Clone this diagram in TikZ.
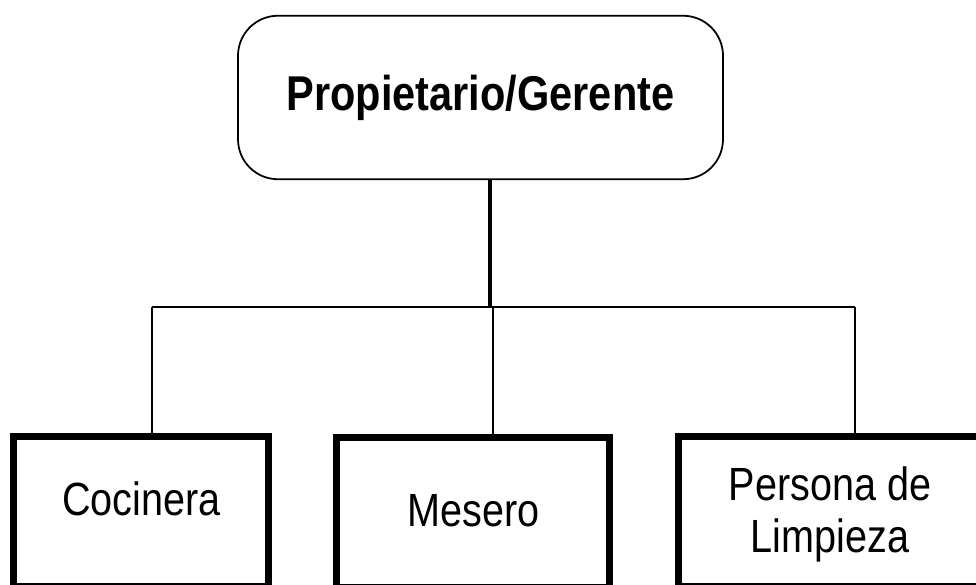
\documentclass[tikz,border=0pt]{standalone}
\usepackage{fontspec}
\setmainfont{Liberation Sans}[FakeStretch=0.85]
\usetikzlibrary{calc}
\tikzset{
  jefe/.style={draw,rounded corners=0.8cm,line width=1pt,minimum width=9.7cm,minimum height=3.27cm,font=\fontsize{27.8}{30}\selectfont\bfseries},
  puesto/.style={draw,line width=4pt,minimum width=#1,minimum height=3cm},
  rotulo/.style={align=center,inner sep=0pt,font=\fontsize{26.5}{29.6}\selectfont},
  rama/.style={line width=1pt},
  tronco/.style={line width=2pt},
}
\begin{document}
\begin{tikzpicture}
  \clip (0,0) rectangle (19.52,11.7);
  \node[jefe] (gerente) at (9.61,9.75) {Propietario/Gerente};
  \node[puesto=5.1cm] (cocinera) at (2.82,1.47) {};
  \node[puesto=5.46cm] (mesero) at (9.46,1.45) {};
  \node[puesto=6.06cm] (limpieza) at (16.6,1.47) {};
  \node[rotulo] (tcocinera) at (2.83,1.73) {Cocinera};
  \node[rotulo] (tmesero) at (9.47,1.48) {Mesero};
  \node[rotulo] (tlimpieza) at (16.6,1.42) {Persona de\\Limpieza};
  \coordinate (nudo) at (9.8,5.56);
  \coordinate (izq) at (3.04,5.56);
  \coordinate (centro) at (9.86,5.56);
  \coordinate (der) at (17.1,5.56);
  \draw[tronco] (gerente.south -| nudo) -- (nudo);
  \draw[rama] (izq) -- (der);
  \draw[rama] (izq) -- (izq |- cocinera.north);
  \draw[rama] (centro) -- (centro |- mesero.north);
  \draw[rama] (der) -- (der |- limpieza.north);
\end{tikzpicture}
\end{document}
